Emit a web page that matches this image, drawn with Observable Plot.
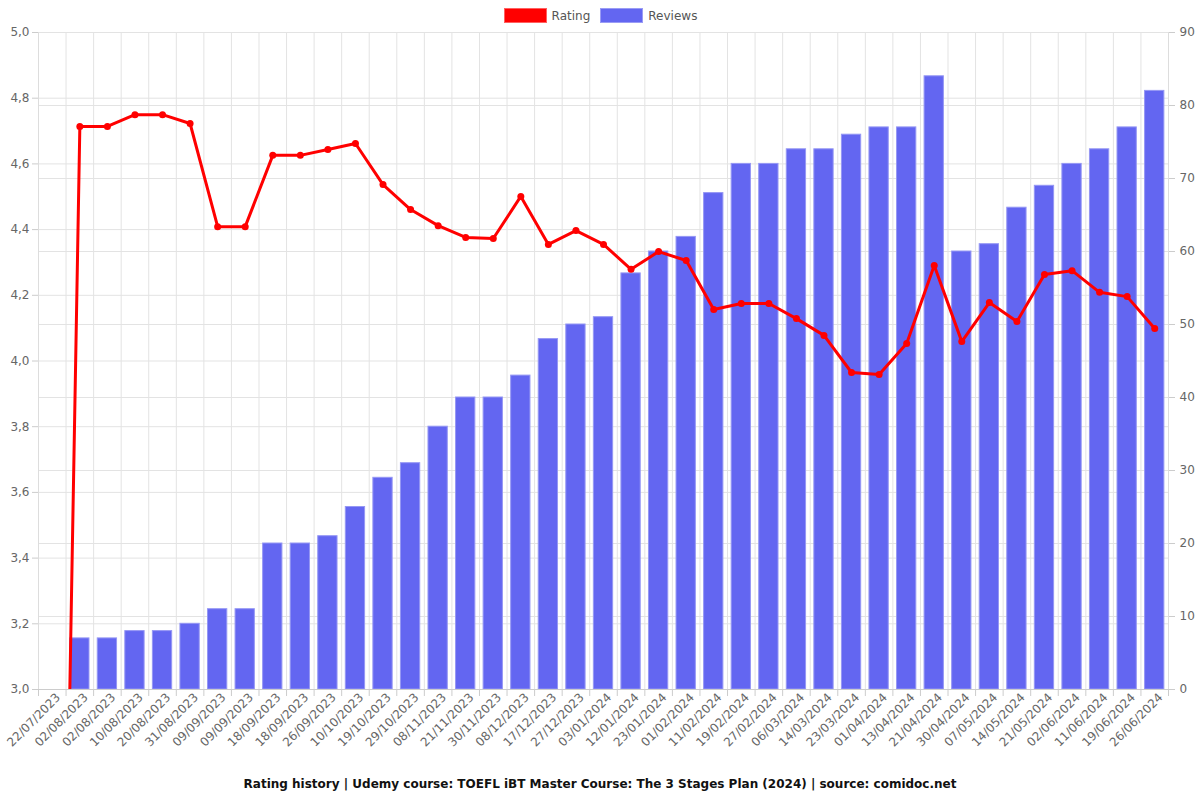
<!DOCTYPE html>
<html><head><meta charset="utf-8">
<script src="https://cdn.jsdelivr.net/npm/d3@7"></script>
<script src="https://cdn.jsdelivr.net/npm/@observablehq/plot@0.6"></script>
<style>
html,body{margin:0;padding:0;background:#fff;font-family:"DejaVu Sans",sans-serif;}
#legend{height:22px;box-sizing:border-box;padding-top:8px;display:flex;justify-content:center;align-items:flex-start;font-size:12px;color:#555;padding-left:1px;overflow:visible}
#legend .item{display:flex;align-items:center;margin:0 5px;height:15px}
#legend .sw{width:41px;height:13px;margin-right:5px}
#chart svg{display:block;overflow:visible}
#caption{text-align:center;font-weight:bold;font-size:12px;color:#111;margin-top:7px;}
</style></head><body>
<div id="legend">
  <div class="item"><div class="sw" style="background:#ff0000;border:1px solid #ff6060"></div><span>Rating</span></div>
  <div class="item"><div class="sw" style="background:#6366f1;border:1px solid #9a9cf5"></div><span>Reviews</span></div>
</div>
<div id="chart"></div>
<div id="caption">Rating history | Udemy course: TOEFL iBT Master Course: The 3 Stages Plan (2024) | source: comidoc.net</div>
<script>
const dates = ["22/07/2023","02/08/2023","02/08/2023","10/08/2023","20/08/2023","31/08/2023","09/09/2023","09/09/2023","18/09/2023","18/09/2023","26/09/2023","10/10/2023","19/10/2023","29/10/2023","08/11/2023","21/11/2023","30/11/2023","08/12/2023","17/12/2023","27/12/2023","03/01/2024","12/01/2024","23/01/2024","01/02/2024","11/02/2024","19/02/2024","27/02/2024","06/03/2024","14/03/2024","23/03/2024","01/04/2024","13/04/2024","21/04/2024","30/04/2024","07/05/2024","14/05/2024","21/05/2024","02/06/2024","11/06/2024","19/06/2024","26/06/2024"];
const ratings = [0,4.714,4.714,4.75,4.75,4.723,4.409,4.409,4.626,4.626,4.644,4.662,4.537,4.461,4.412,4.376,4.373,4.501,4.355,4.397,4.355,4.279,4.333,4.306,4.157,4.175,4.175,4.129,4.078,3.965,3.959,4.053,4.291,4.059,4.178,4.120,4.263,4.275,4.209,4.196,4.099];
const reviews = [0,7,7,8,8,9,11,11,20,20,21,25,29,31,36,40,40,43,48,50,51,57,60,62,68,72,72,74,74,76,77,77,84,60,61,66,69,72,74,77,82];
const ratingTicks = [3.0,3.2,3.4,3.6,3.8,4.0,4.2,4.4,4.6,4.8,5.0];
const reviewTicks = [0,10,20,30,40,50,60,70,80,90];

const yMin = 3, yMax = 5, rMax = 90;
const toY = v => yMin + v * (yMax - yMin) / rMax;
const fromY = y => Math.round((y - yMin) * rMax / (yMax - yMin));

const data = dates.map((d, i) => ({i, date: d, rating: ratings[i], reviews: reviews[i]}));
const idx = dates.map((d, i) => i);
const bounds = d3.range(0, dates.length + 1).map(i => i - 0.5);
const half = 0.35;
const gridColor = "#e3e3e3";
const fmt = v => d3.format(".1f")(v).replace(".", ",");

const chart = Plot.plot({
  width: 1200,
  height: 748,
  marginTop: 10,
  marginLeft: 38,
  marginRight: 32,
  marginBottom: 81,
  style: {fontFamily: "DejaVu Sans, sans-serif", fontSize: "12px", color: "#666", background: "#fff"},
  x: {type: "linear", domain: [-0.5, dates.length - 0.5]},
  y: {domain: [yMin, yMax]},
  marks: [
    Plot.ruleY(ratingTicks, {stroke: gridColor}),
    Plot.ruleY(reviewTicks.map(toY), {stroke: gridColor}),
    Plot.ruleX(bounds, {stroke: gridColor}),
    Plot.rectY(data.filter(d => d.reviews > 0), {
      x1: d => d.i - half, x2: d => d.i + half,
      y1: yMin, y2: d => toY(d.reviews),
      fill: "#6366f1", stroke: "#9597f4", strokeWidth: 1
    }),
    Plot.line(data, {x: "i", y: "rating", stroke: "#ff0000", strokeWidth: 3, clip: true}),
    Plot.dot(data.filter(d => d.rating >= yMin), {x: "i", y: "rating", fill: "#ff0000", r: 3.5}),
    Plot.axisY({ticks: ratingTicks, tickFormat: fmt, anchor: "left", tickSize: 6, tickPadding: 3, stroke: "#ccc", color: "#666", fontSize: 12, label: null}),
    Plot.axisY({ticks: reviewTicks.map(toY), tickFormat: fromY, anchor: "right", tickSize: 6, tickPadding: 5, stroke: "#ccc", color: "#666", fontSize: 12, label: null}),
    Plot.axisX({ticks: bounds, tickFormat: () => "", tickSize: 7, stroke: "#ccc", label: null}),
    Plot.axisX({ticks: idx, tickFormat: i => dates[i], tickSize: 0, tickPadding: 6, tickRotate: -45, color: "#666", fontSize: 12, dx: 6, label: null}),
    Plot.ruleY([yMin], {stroke: "#ccc"}),
    Plot.ruleX([-0.5, dates.length - 0.5], {stroke: "#ddd"})
  ]
});
document.getElementById("chart").appendChild(chart);
</script>
</body></html>
